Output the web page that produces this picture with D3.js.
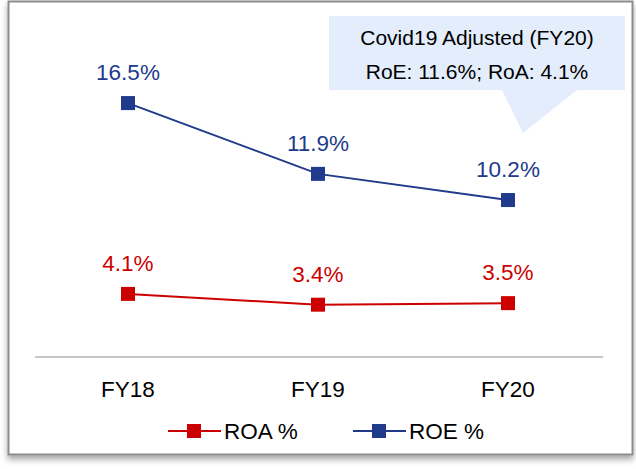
<!DOCTYPE html>
<html>
<head>
<meta charset="utf-8">
<script src="https://cdn.jsdelivr.net/npm/d3@7"></script>
<style>
  body { margin: 0; background: #fff; }
  svg { display: block; font-family: "Liberation Sans", Arial, sans-serif; }
</style>
</head>
<body>
<div id="chart"></div>
<script>
const width = 636;
const height = 469;

// chart data
const years = ["FY18", "FY19", "FY20"];
const roa = [4.1, 3.4, 3.5];
const roe = [16.5, 11.9, 10.2];
const calloutLines = ["Covid19 Adjusted (FY20)", "RoE: 11.6%; RoA: 4.1%"];

const series = [
    { name: "ROA %", values: roa, color: "#cc0000" },
    { name: "ROE %", values: roe, color: "#203a8c" }
];

const svg = d3.select("#chart")
    .append("svg")
    .attr("width", width)
    .attr("height", height);

// frame with a soft shadow
const defs = svg.append("defs");
const filter = defs.append("filter").attr("id", "shadow")
    .attr("x", "-5%").attr("y", "-5%").attr("width", "110%").attr("height", "115%");
filter.append("feDropShadow")
    .attr("dx", 0).attr("dy", 4).attr("stdDeviation", 3)
    .attr("flood-color", "#000").attr("flood-opacity", 0.35);

svg.append("rect")
    .attr("x", 8.5).attr("y", 1.5)
    .attr("width", 624).attr("height", 453)
    .attr("fill", "#fff")
    .attr("stroke", "#8c8c8c")
    .attr("stroke-width", 2)
    .attr("filter", "url(#shadow)");

const x = d3.scalePoint()
    .domain(years)
    .range([128, 508]);

const y = d3.scaleLinear()
    .domain([0, 18])
    .range([357, 80]);

// baseline
svg.append("line")
    .attr("x1", 35).attr("x2", 603)
    .attr("y1", y(0)).attr("y2", y(0))
    .attr("stroke", "#8c8c8c")
    .attr("stroke-width", 1);

// category labels
svg.selectAll(".xlabel")
    .data(years)
    .enter().append("text")
    .attr("class", "xlabel")
    .attr("x", d => x(d))
    .attr("y", 397)
    .attr("text-anchor", "middle")
    .style("font-size", "22.5px")
    .style("fill", "#000")
    .text(d => d);

const line = d3.line()
    .x((d, i) => x(years[i]))
    .y(d => y(d));

series.forEach(s => {
    svg.append("path")
        .datum(s.values)
        .attr("d", line)
        .attr("fill", "none")
        .attr("stroke", s.color)
        .attr("stroke-width", 2);

    svg.selectAll(null)
        .data(s.values)
        .enter().append("rect")
        .attr("x", (d, i) => x(years[i]) - 7)
        .attr("y", d => y(d) - 7)
        .attr("width", 14)
        .attr("height", 14)
        .attr("fill", s.color);

    svg.selectAll(null)
        .data(s.values)
        .enter().append("text")
        .attr("x", (d, i) => x(years[i]))
        .attr("y", d => y(d) - 23)
        .attr("text-anchor", "middle")
        .style("font-size", "22.5px")
        .style("fill", s.color)
        .text(d => d.toFixed(1) + "%");
});

// callout box
const callout = svg.append("g");
callout.append("path")
    .attr("d", "M329,16 H625 V90 H577 L523,133 L502,90 H329 Z")
    .attr("fill", "#e3edfb");
callout.selectAll("text")
    .data(calloutLines)
    .enter().append("text")
    .attr("x", 477)
    .attr("y", (d, i) => 45 + i * 34)
    .attr("text-anchor", "middle")
    .style("font-size", "21px")
    .style("fill", "#000")
    .text(d => d);

// legend
const legendX = [168, 353];
const legend = svg.selectAll(".legend")
    .data(series)
    .enter().append("g")
    .attr("class", "legend")
    .attr("transform", (d, i) => `translate(${legendX[i]},431)`);

legend.append("line")
    .attr("x1", 0).attr("x2", 53)
    .attr("y1", 0).attr("y2", 0)
    .attr("stroke", d => d.color)
    .attr("stroke-width", 2);

legend.append("rect")
    .attr("x", 19).attr("y", -7)
    .attr("width", 14).attr("height", 14)
    .attr("fill", d => d.color);

legend.append("text")
    .attr("x", 56)
    .attr("y", 8)
    .style("font-size", "22.5px")
    .style("fill", "#000")
    .text(d => d.name);
</script>
</body>
</html>
